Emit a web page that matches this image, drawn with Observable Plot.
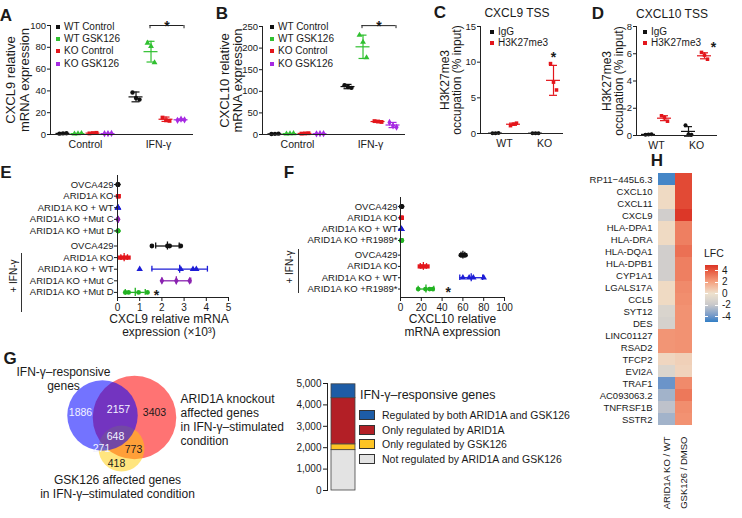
<!DOCTYPE html>
<html><head><meta charset="utf-8">
<script src="https://cdn.jsdelivr.net/npm/d3@7"></script>
<script src="https://cdn.jsdelivr.net/npm/@observablehq/plot@0.6"></script>
<style>
body{margin:0;background:#fff;}
#fig{position:relative;width:742px;height:518px;overflow:hidden;background:#fff;font-family:"Liberation Sans",Arial,Helvetica,sans-serif;color:#1a1a1a;}
.lbl{position:absolute;white-space:nowrap;line-height:1;}
</style></head><body><div id="fig"></div>
<script>
// ================= DATA =================
// Panels A & B
const groupsAB = ["Control", "IFN-γ"];
const seriesAB = ["WT Control", "WT GSK126", "KO Control", "KO GSK126"];
const A_ctrlPts = [[0.8, 1.0, 1.2], [0.6, 0.8, 1.0], [1.0, 1.3, 1.5], [0.7, 0.9, 1.0]];
const A_ifnPts  = [[38.5, 33.5, 32], [84, 81, 66], [15.5, 13, 12.5], [13, 14, 13.5]];
const A_mean = [[1.0, 0.8, 1.25, 0.85], [34.5, 76, 14, 13.5]];
const A_sd   = [[0.15, 0.15, 0.2, 0.15], [4.5, 9.5, 2, 0.7]];
const B_ctrlPts = [[1, 1.5, 2], [1.5, 2, 2.5], [2, 2.5, 3], [1.5, 2, 2]];
const B_ifnPts  = [[114, 110, 108], [230, 214, 178], [31, 30, 29], [28, 20, 17]];
const B_mean = [[1.5, 2, 2.5, 1.8], [111, 203, 30, 22]];
const B_sd   = [[0.4, 0.4, 0.4, 0.3], [5, 27, 1.5, 6]];
// Panels C & D
const groupsCD = ["WT", "KO"];
const seriesCD = ["IgG", "H3K27me3"];
const C_wtPts = [[0.03, 0.05, 0.06], [1.1, 1.3, 1.45]];
const C_koPts = [[0.03, 0.04, 0.05], [9.8, 7.2, 6.1]];
const C_mean = [[0.05, 1.3], [0.04, 7.45]];
const C_sd   = [[0.02, 0.15], [0.01, 2.1]];
const D_wtPts = [[0.05, 0.08, 0.1], [1.45, 1.3, 1.05]];
const D_koPts = [[0.75, 0.1, 0.05], [6.1, 5.9, 5.6]];
const D_mean = [[0.08, 1.27], [0.3, 5.85]];
const D_sd   = [[0.03, 0.18], [0.35, 0.22]];
// Panel E (x10^3)
const E_rows = ["OVCA429", "ARID1A KO", "ARID1A KO + WT", "ARID1A KO +Mut C", "ARID1A KO +Mut D"];
const E_basePts = [[0.01, 0.02, 0.03, 0.02], [0.02, 0.03, 0.04, 0.05], [0.01, 0.02, 0.02, 0.03], [0.01, 0.02, 0.03, 0.02], [0.02, 0.03, 0.02, 0.03]];
const E_ifnPts = [[1.55, 2.25, 2.35, 2.85], [0.1, 0.25, 0.35, 0.5], [1.0, 2.85, 3.4, 3.55], [2.0, 2.65, 3.25], [0.35, 0.5, 0.95, 1.35]];
const E_ifnMean = [2.25, 0.3, 2.8, 2.65, 0.8];
const E_ifnSd   = [0.53, 0.15, 1.25, 0.65, 0.45];
const E_xTicks = [0, 1, 2, 3, 4, 5];
// Panel F
const F_rows = ["OVCA429", "ARID1A KO", "ARID1A KO + WT", "ARID1A KO +R1989*"];
const F_basePts = [[0.8, 1.0, 1.2, 1.5], [0.6, 0.8, 1.0, 1.2], [0.5, 0.7, 0.9, 1.1], [0.6, 0.9, 1.1, 1.3]];
const F_ifnPts = [[58, 59.5, 61, 62.5], [18.5, 21, 23, 26], [60, 66, 70, 80], [17, 24, 28, 31]];
const F_ifnMean = [60, 22, 68, 24.5];
const F_ifnSd   = [1.8, 3, 11, 7.5];
const F_xTicks = [0, 20, 40, 60, 80, 100];
// Panel G (Venn regions)
const vennRegionCounts = [1886, 2157, 3403, 648, 271, 773, 418];
const vennRegionSets = [[0], [0, 1], [1], [0, 1, 2], [0, 2], [1, 2], [2]];
// Panel G (stacked bar)
const barCats = ["Not regulated by ARID1A and GSK126", "Only regulated by GSK126", "Only regulated by ARID1A", "Regulated by both ARID1A and GSK126"];
const barVals = [1886, 271, 2157, 648];
const barTicks = [0, 1000, 2000, 3000, 4000, 5000];
// Panel H
const hGenes = ["RP11−445L6.3", "CXCL10", "CXCL11", "CXCL9", "HLA-DPA1", "HLA-DRA", "HLA-DQA1", "HLA-DPB1", "CYP1A1", "LGALS17A", "CCL5", "SYT12", "DES", "LINC01127", "RSAD2", "TFCP2", "EVI2A", "TRAF1", "AC093063.2", "TNFRSF1B", "SSTR2"];
const hComps = ["ARID1A KO / WT", "GSK126 / DMSO"];
const hArid = [-4.6, 0.3, 0.3, -1.5, 0.3, 0.3, -1.5, -1.5, -1.5, 0.3, 0.3, -1.1, -1.3, 2.4, 2.4, 0.4, -1.0, -4.0, -2.8, -2.2, -2.8];
const hGsk  = [4.4, 4.4, 4.4, 4.9, 3.0, 3.0, 3.4, 3.0, 3.0, 2.7, 2.6, 2.5, 2.5, 2.5, 2.5, 0.6, 0.5, 2.7, 3.2, 2.6, 2.5];
const lfcTicks = [4, 2, 0, -2, -4];

// ================= STYLE =================
const FONT = '"Liberation Sans", Arial, Helvetica, sans-serif';
const colAB = ["#111111", "#30c030", "#e3161c", "#a62ae2"];
const symAB = ["circle", "triangle", "square", "diamond"];
const colCD = ["#111111", "#e3161c"];
const symCD = ["circle", "square"];
const colE = ["#111111", "#e3161c", "#1c1cd6", "#8a22b0", "#22b322"];
const symE = ["circle", "square", "triangle", "diamond", "circle"];
const colF = ["#111111", "#e3161c", "#1c1cd6", "#22b322"];
const symF = ["circle", "square", "triangle", "circle"];
const barColors = ["#e3e3e3", "#fdc424", "#b31f26", "#1d5ca6"];
const hDom = [-5, -4, -2, 0, 2, 4, 5];
const hRange = ["#2b7cc5", "#6b94c9", "#c7c7cb", "#eee3cf", "#f5a482", "#e75a40", "#db3325"];

const fig = document.getElementById("fig");
function put(el, x, y) { el.style.position = "absolute"; el.style.left = x + "px"; el.style.top = y + "px"; fig.appendChild(el); return el; }
function txt(s, x, y, o = {}) {
  const d = document.createElement("div"); d.className = "lbl"; d.textContent = s;
  d.style.fontSize = (o.size || 10) + "px"; d.style.fontWeight = o.weight || "normal"; d.style.color = o.color || "#1a1a1a";
  const tx = o.anchor === "middle" ? "-50%" : o.anchor === "end" ? "-100%" : "0";
  d.style.transform = o.rotate ? `translate(-50%, -50%) rotate(${o.rotate}deg)` : `translate(${tx}, -50%)`;
  return put(d, x, y);
}
function box(x, y, w, h, css) { const d = document.createElement("div"); d.style.cssText = `width:${w}px;height:${h}px;box-sizing:border-box;` + css; return put(d, x, y); }
const baseStyle = () => ({fontFamily: FONT, fontSize: "10px", color: "#1a1a1a", background: "transparent", overflow: "visible"});

// ============ grouped dot plots (A-D) ============
function groupedDots(c) {
  const u = c.unit, rows = [], st = [];
  c.groups.forEach((g, gi) => c.series.forEach((s, si) => {
    const cx = gi + c.offsets[si] / u;
    const vals = c.pts[gi][si];
    vals.forEach((v, k) => rows.push({s, x: cx + (k - (vals.length - 1) / 2) * c.jit / u, y: v}));
    st.push({s, gi, si, x: cx, m: c.mean[gi][si], sd: c.sd[gi][si]});
  }));
  const mh = c.meanHalf / u, ch = c.capHalf / u, lw = 1.2;
  const marks = [
    Plot.ruleX(st, {x: "x", y1: d => d.m - d.sd, y2: d => d.m + d.sd, stroke: "s", strokeWidth: lw}),
    Plot.ruleY(st, {y: d => d.m - d.sd, x1: d => d.x - ch, x2: d => d.x + ch, stroke: "s", strokeWidth: lw}),
    Plot.ruleY(st, {y: d => d.m + d.sd, x1: d => d.x - ch, x2: d => d.x + ch, stroke: "s", strokeWidth: lw}),
    Plot.ruleY(st, {y: "m", x1: d => d.x - mh, x2: d => d.x + mh, stroke: "s", strokeWidth: lw}),
    Plot.dot(rows, {x: "x", y: "y", fill: "s", symbol: "s", r: c.r}),
    Plot.ruleX([c.xDomain[0]], {stroke: "#222"}),
    Plot.ruleY([c.yDomain[0]], {stroke: "#222"}),
    Plot.axisY(c.yTicks, {tickSize: 3, tickPadding: 1.5, label: null, fontSize: 9.5, tickFormat: d3.format("d")}),
    Plot.axisX(c.groups.map((g, i) => i), {tickFormat: i => c.groups[i], tickSize: 0, tickPadding: 6, label: null, fontSize: 10.5}),
    Plot.text([c.ylab[0]], {frameAnchor: "left", textAnchor: "middle", dx: c.ylabDx[0], rotate: -90, fontSize: c.ylabSize}),
    Plot.text([c.ylab[1]], {frameAnchor: "left", textAnchor: "middle", dx: c.ylabDx[1], rotate: -90, fontSize: c.ylabSize})
  ];
  if (c.extra) marks.push(...c.extra(st, u));
  const svg = Plot.plot({
    width: c.w, height: c.h, marginLeft: c.mL, marginRight: c.mR, marginTop: c.mT, marginBottom: c.mB,
    x: {domain: c.xDomain}, y: {domain: c.yDomain},
    color: {domain: c.series, range: c.colors}, symbol: {domain: c.series, range: c.symbols},
    style: baseStyle(), marks
  });
  put(svg, c.left, c.top);
}
function bracket(y, drop, starDy) {
  return (st, u) => {
    const a = st.find(d => d.gi === 1 && d.si === 1), b = st.find(d => d.gi === 1 && d.si === 3);
    const x1 = a.x - 1 / u, x2 = b.x + 3 / u;
    return [
      Plot.ruleY([y], {x1: () => x1, x2: () => x2, stroke: "#222"}),
      Plot.ruleX([x1, x2], {y1: y - drop, y2: y, stroke: "#222"}),
      Plot.text(["*"], {x: () => (x1 + x2) / 2, y: () => y, dy: starDy, fontSize: 14, fontWeight: "bold"})
    ];
  };
}
function starAt(yv, dxPx) {
  return (st, u) => {
    const k = st.find(d => d.gi === 1 && d.si === 1);
    return [Plot.text(["*"], {x: () => k.x + dxPx / u, y: () => yv, fontSize: 14, fontWeight: "bold"})];
  };
}

groupedDots({left: 0, top: 0, w: 200, h: 160, mL: 50, mR: 7, mT: 25, mB: 26,
  groups: groupsAB, series: seriesAB, colors: colAB, symbols: symAB,
  pts: [A_ctrlPts, A_ifnPts], mean: A_mean, sd: A_sd,
  unit: 73, offsets: [-22.5, -7.5, 7.5, 22.5], jit: 3.5, meanHalf: 7, capHalf: 4, r: 2.2,
  xDomain: [-0.479, 1.479], yDomain: [0, 100], yTicks: [0, 20, 40, 60, 80, 100],
  ylab: ["CXCL9 relative", "mRNA expression"], ylabDx: [-40, -26], ylabSize: 13, extra: bracket(100, 3, 1)});
groupedDots({left: 212, top: 0, w: 200, h: 160, mL: 50, mR: 7, mT: 26, mB: 26,
  groups: groupsAB, series: seriesAB, colors: colAB, symbols: symAB,
  pts: [B_ctrlPts, B_ifnPts], mean: B_mean, sd: B_sd,
  unit: 73, offsets: [-22.5, -7.5, 7.5, 22.5], jit: 3.5, meanHalf: 7, capHalf: 4, r: 2.2,
  xDomain: [-0.479, 1.479], yDomain: [0, 250], yTicks: [0, 50, 100, 150, 200, 250],
  ylab: ["CXCL10 relative", "mRNA expression"], ylabDx: [-38, -25], ylabSize: 13, extra: bracket(252, 7, 1)});
groupedDots({left: 430, top: 0, w: 140, h: 160, mL: 50, mR: 7, mT: 26, mB: 27,
  groups: groupsCD, series: seriesCD, colors: colCD, symbols: symCD,
  pts: [C_wtPts, C_koPts], mean: C_mean, sd: C_sd,
  unit: 40, offsets: [-9, 9], jit: 3, meanHalf: 7, capHalf: 4, r: 2,
  xDomain: [-0.6, 1.475], yDomain: [0, 15], yTicks: [0, 5, 10, 15],
  ylab: ["H3K27me3", "occupation (% input)"], ylabDx: [-35, -23], ylabSize: 12, extra: starAt(10.7, 0)});
groupedDots({left: 590, top: 0, w: 140, h: 160, mL: 46, mR: 13, mT: 26, mB: 25,
  groups: groupsCD, series: seriesCD, colors: colCD, symbols: symCD,
  pts: [D_wtPts, D_koPts], mean: D_mean, sd: D_sd,
  unit: 40, offsets: [-8, 8], jit: 3, meanHalf: 7, capHalf: 4, r: 2,
  xDomain: [-0.5, 1.525], yDomain: [0, 8], yTicks: [0, 2, 4, 6, 8],
  ylab: ["H3K27me3", "occupation (% input)"], ylabDx: [-29, -17], ylabSize: 12, extra: starAt(6.46, 9)});

// legends A-D
function dotLegend(items, colors, xm, y0, step) {
  items.forEach((s, i) => {
    box(xm - 2, y0 + i * step - 2, 4, 4, `background:${colors[i]};`);
    txt(s, xm + 6, y0 + i * step, {size: 10});
  });
}
dotLegend(seriesAB, colAB, 58, 27, 12.2);
dotLegend(seriesAB, colAB, 272, 27, 12.2);
dotLegend(seriesCD, colCD, 492, 32, 11);
dotLegend(seriesCD, colCD, 645, 32, 11);
txt("CXCL9 TSS", 517, 13, {size: 12, anchor: "middle"});
txt("CXCL10 TSS", 672, 14, {size: 12, anchor: "middle"});

// ============ row dot plots (E, F) ============
function rowPlot(c) {
  const n = c.rows.length;
  const pos = i => i < n ? i : i + c.gap;
  const ticks = d3.range(2 * n).map(pos);
  const names = new Map(ticks.map((t, i) => [t, c.rows[i % n]]));
  const pts = [];
  c.basePts.forEach((a, r) => a.forEach(v => pts.push({r, y: pos(r), x: v})));
  c.ifnPts.forEach((a, r) => a.forEach(v => pts.push({r, y: pos(n + r), x: v})));
  const st = c.ifnMean.map((m, r) => ({r, y: pos(n + r), m, sd: c.ifnSd[r]}));
  const idx = d3.range(n), lw = 1.3;
  const svg = Plot.plot({
    width: c.w, height: c.h, marginLeft: c.mL, marginRight: c.mR, marginTop: c.mT, marginBottom: c.mB,
    x: {domain: c.xDomain}, y: {domain: c.yDomain, reverse: true},
    color: {type: "ordinal", domain: idx, range: c.colors}, symbol: {domain: idx, range: c.symbols},
    style: baseStyle(),
    marks: [
      Plot.ruleY(st, {y: "y", x1: d => d.m - d.sd, x2: d => d.m + d.sd, stroke: "r", strokeWidth: lw}),
      Plot.ruleX(st, {x: d => d.m - d.sd, y1: d => d.y - c.cap, y2: d => d.y + c.cap, stroke: "r", strokeWidth: lw}),
      Plot.ruleX(st, {x: d => d.m + d.sd, y1: d => d.y - c.cap, y2: d => d.y + c.cap, stroke: "r", strokeWidth: lw}),
      Plot.ruleX(st, {x: "m", y1: d => d.y - c.tick, y2: d => d.y + c.tick, stroke: "r", strokeWidth: lw}),
      Plot.dot(pts, {x: "x", y: "y", fill: "r", symbol: "r", r: 2.4}),
      Plot.ruleX([c.xDomain[0]], {stroke: "#222"}),
      Plot.ruleY([c.yDomain[1]], {stroke: "#222"}),
      Plot.axisY(ticks, {tickFormat: t => names.get(t), tickSize: c.ytick, tickPadding: 1, fontSize: 9.5, label: null}),
      Plot.axisX(c.xTicks, {tickFormat: d3.format("d"), tickSize: 4, tickPadding: 2, fontSize: 10, label: null}),
      Plot.text([c.xlab[0]], {frameAnchor: "bottom", dy: 25, dx: c.xlabDx, fontSize: 12}),
      Plot.text([c.xlab[1]], {frameAnchor: "bottom", dy: 38, dx: c.xlabDx, fontSize: 12}),
      Plot.text(["*"], {x: () => c.star.x, y: () => pos(n + c.star.r), dy: 3, fontSize: 14, fontWeight: "bold"})
    ]
  });
  put(svg, c.left, c.top);
}
rowPlot({left: 0, top: 165, w: 240, h: 175, mL: 117, mR: 12, mT: 10, mB: 43,
  rows: E_rows, basePts: E_basePts, ifnPts: E_ifnPts, ifnMean: E_ifnMean, ifnSd: E_ifnSd,
  gap: 0.3, xDomain: [0, 5], xTicks: E_xTicks, yDomain: [-0.78, 9.74],
  colors: colE, symbols: symE, xlab: ["CXCL9 relative mRNA", "expression (×10³)"], xlabDx: -4,
  star: {r: 4, x: 1.75}, tick: 0.35, cap: 0.25, ytick: 3});
rowPlot({left: 250, top: 180, w: 265, h: 160, mL: 150, mR: 11, mT: 17, mB: 43,
  rows: F_rows, basePts: F_basePts, ifnPts: F_ifnPts, ifnMean: F_ifnMean, ifnSd: F_ifnSd,
  gap: 0.3, xDomain: [0, 100], xTicks: F_xTicks, yDomain: [-0.8, 8.05],
  colors: colF, symbols: symF, xlab: ["CXCL10 relative", "mRNA expression"], xlabDx: 0,
  star: {r: 3, x: 46}, tick: 0.35, cap: 0.25, ytick: 2});
// "+ IFN-γ" annotations
box(21, 253, 1, 59, "background:#333;");
txt("+ IFN-γ", 14, 276, {size: 10, rotate: -90});
box(298, 249, 1, 44, "background:#333;");
txt("+ IFN-γ", 290, 267, {size: 10, rotate: -90});

// ============ Venn (G) ============
(function () {
  const totals = [0, 1, 2].map(s => d3.sum(vennRegionCounts.filter((c, i) => vennRegionSets[i].includes(s))));
  const centers = [[102, 75], [134, 77], [121, 108]];
  const fills = ["#0000ff", "#ff0000", "#ffcc00"], ops = [0.55, 0.55, 0.5];
  const order = [1, 2, 0];
  const circles = order.map(s => ({x: centers[s][0], y: centers[s][1], r: 0.5 * Math.sqrt(totals[s]), fill: fills[s], op: ops[s]}));
  const labelPos = [[80, 72], [118, 69], [154, 72], [115, 96], [101, 108], [133, 109], [116, 123]];
  const labelCol = ["#f2f2ff", "#f2f2ff", "#1a1a1a", "#f2f2ff", "#f2f2ff", "#1a1a1a", "#1a1a1a"];
  const counts = vennRegionCounts.map((v, i) => ({v, x: labelPos[i][0], y: labelPos[i][1], c: labelCol[i]}));
  const svg = Plot.plot({
    width: 270, height: 178, margin: 0,
    x: {type: "identity", axis: null}, y: {type: "identity", axis: null}, r: {type: "identity"},
    style: baseStyle(),
    marks: [
      circles.map(c => Plot.dot([c], {x: "x", y: "y", r: "r", fill: c.fill, fillOpacity: c.op, stroke: "none"})),
      Plot.text(counts, {x: "x", y: "y", text: d => String(d.v), fill: "c", fontSize: 10.5}),
      Plot.text(["IFN-γ–responsive\ngenes"], {x: () => 63, y: () => 38, fontSize: 12, lineHeight: 1.15}),
      Plot.text(["ARID1A knockout\naffected genes\nin IFN-γ–stimulated\ncondition"], {x: () => 180, y: () => 79, textAnchor: "start", fontSize: 12, lineHeight: 1.15}),
      Plot.text(["GSK126 affected genes\nin IFN-γ–stimulated condition"], {x: () => 117, y: () => 146, fontSize: 12, lineHeight: 1.15})
    ]
  });
  put(svg, 0, 340);
})();

// ============ Stacked bar (G) ============
(function () {
  const data = barCats.map((c, i) => ({c, v: barVals[i]}));
  const svg = Plot.plot({
    width: 90, height: 130, marginLeft: 47, marginRight: 0, marginTop: 13, marginBottom: 10,
    x: {type: "band", domain: ["IFN"], range: [51, 75], padding: 0, axis: null},
    y: {domain: [0, 5000]},
    color: {domain: barCats, range: barColors},
    style: baseStyle(),
    marks: [
      Plot.barY(data, {x: () => "IFN", y: "v", fill: "c", stroke: "#444", strokeWidth: 0.8}),
      Plot.axisY(barTicks, {tickFormat: d3.format(","), tickSize: 4, tickPadding: 2, fontSize: 10, label: null}),
      Plot.frame({anchor: "left", stroke: "#222"})
    ]
  });
  put(svg, 280, 370);
  txt("IFN-γ–responsive genes", 360, 395, {size: 12.5});
  const legendOrder = [3, 2, 1, 0];
  legendOrder.forEach((k, i) => {
    const yc = 415 + i * 14.6;
    box(359, yc - 5, 16, 10, `background:${barColors[k]};border:1px solid #333;`);
    txt(barCats[k], 382, yc, {size: 10.5});
  });
})();

// ============ Heatmap (H) ============
(function () {
  const cells = hGenes.flatMap((g, i) => [{g, c: hComps[0], v: hArid[i]}, {g, c: hComps[1], v: hGsk[i]}]);
  const svg = Plot.plot({
    width: 172, height: 358, marginLeft: 88, marginRight: 50, marginTop: 7, marginBottom: 88,
    x: {domain: hComps, padding: 0}, y: {domain: hGenes, padding: 0},
    color: {type: "linear", domain: hDom, range: hRange},
    style: baseStyle(),
    marks: [
      Plot.cell(cells, {x: "c", y: "g", fill: "v", inset: 0}),
      Plot.axisY({tickSize: 0, tickPadding: 6, fontSize: 9.5, label: null}),
      Plot.axisX({anchor: "bottom", tickSize: 0, tickPadding: 6, tickRotate: -90, fontSize: 9.5, label: null})
    ]
  });
  put(svg, 570, 160);
  // colour bar legend
  const cs = d3.scaleLinear().domain(hDom).range(hRange);
  const top = 265, h = 57, vTop = 5.0, vBot = -4.9;
  const stops = d3.range(0, 11).map(i => { const v = vTop - (vTop - vBot) * i / 10; return `${cs(v)} ${i * 10}%`; });
  box(705, top, 13, h, `background:linear-gradient(to bottom, ${stops.join(",")});`);
  txt("LFC", 704, 253, {size: 10.5});
  lfcTicks.forEach(v => {
    const y = top + (vTop - v) / (vTop - vBot) * h;
    box(705, y - 0.5, 3, 1, "background:#fff;");
    box(715, y - 0.5, 3, 1, "background:#fff;");
    txt(String(v), 722, y, {size: 10});
  });
})();

// ============ Panel letters ============
[["A", 6, 15], ["B", 222, 13], ["C", 440, 12], ["D", 598, 13], ["E", 6, 172], ["F", 289, 172], ["G", 10, 358], ["H", 657, 160]]
  .forEach(([s, x, y]) => txt(s, x, y, {size: 17, weight: "bold", anchor: "middle"}));
</script></body></html>
